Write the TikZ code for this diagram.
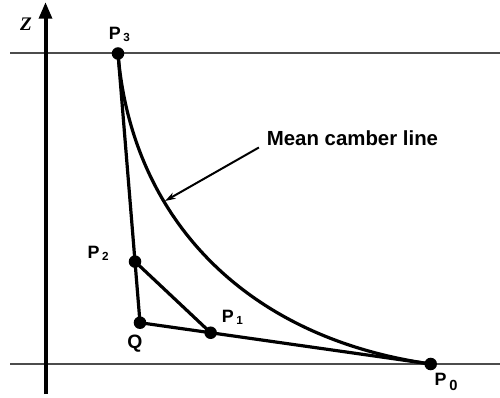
\documentclass[tikz,border=0pt]{standalone}
\usepackage{fontspec}
\setmainfont{Liberation Sans}
\newfontfamily\seriffont{Liberation Serif}
\usetikzlibrary{arrows.meta,positioning,calc}

\newcommand{\plab}[1]{P\kern2pt{\fontsize{8.8}{9}\selectfont\raisebox{-1.5pt}{#1}}}

\begin{document}
\begin{tikzpicture}[x=0.75pt,y=-0.75pt,
  lbl/.style={font=\fontsize{13.4}{15}\selectfont\bfseries,inner sep=0pt},
  poly/.style={line width=2.4pt,line join=round},
  guide/.style={line width=1.3pt,black!70},
  arr/.style={-{Stealth[length=8pt,width=5pt]},line width=1.5pt}]
\useasboundingbox (0,0) rectangle (500,397);
% axis and reference lines
\draw[guide] (10,53.3) -- (500,53.3);
\draw[guide] (10,364) -- (500,364);
\draw[line width=3pt,-{Triangle[length=12.5pt,width=9.5pt]}] (45.5,394) -- (45.5,2);
\node[font=\seriffont\bfseries\itshape\fontsize{14.4}{16}\selectfont,inner sep=0pt] (zlab) at (26,24.5) {Z};
% control polygon
\coordinate (p3) at (118,53.5);
\coordinate (q) at (140,322.7);
\coordinate (p0) at (430.7,364);
\coordinate (p2) at ($(p3)!0.773!(q)$);
\coordinate (p1) at ($(q)!0.243!(p0)$);
\draw[poly] (p3) -- (q) -- (p0);
\draw[poly] (p2) -- (p1);
\draw[poly] (p3) .. controls ($(p3)!0.6!(q)$) and ($(p0)!0.65!(q)$) .. (p0);
\foreach \p in {p0,p1,p2,p3,q} \fill (\p) circle[radius=4.7pt];
% labels
\node[lbl,above=9pt of p3,xshift=1pt] (l3) {\plab{3}};
\node[lbl,left=19.5pt of p2,yshift=6.2pt] (l2) {\plab{2}};
\node[lbl,right=8.25pt of p1,yshift=11.25pt] (l1) {\plab{1}};
\node[lbl,below=7pt of p0,xshift=11.5pt] (l0) {P\kern2pt{\fontsize{11}{12}\selectfont\raisebox{-3.5pt}{0}}};
\node[lbl,font=\fontsize{14.5}{16}\selectfont\bfseries,below=9.2pt of q,xshift=-3.75pt] (lq) {Q};
\node[font=\fontsize{15.3}{17}\selectfont\bfseries,inner sep=0pt] (mcl) at (352.5,138) {Mean camber line};
\coordinate (tip) at (165,201);
\draw[arr] ([shift={(-5.8pt,-1.3pt)}]mcl.south west) -- (tip);
\end{tikzpicture}
\end{document}
